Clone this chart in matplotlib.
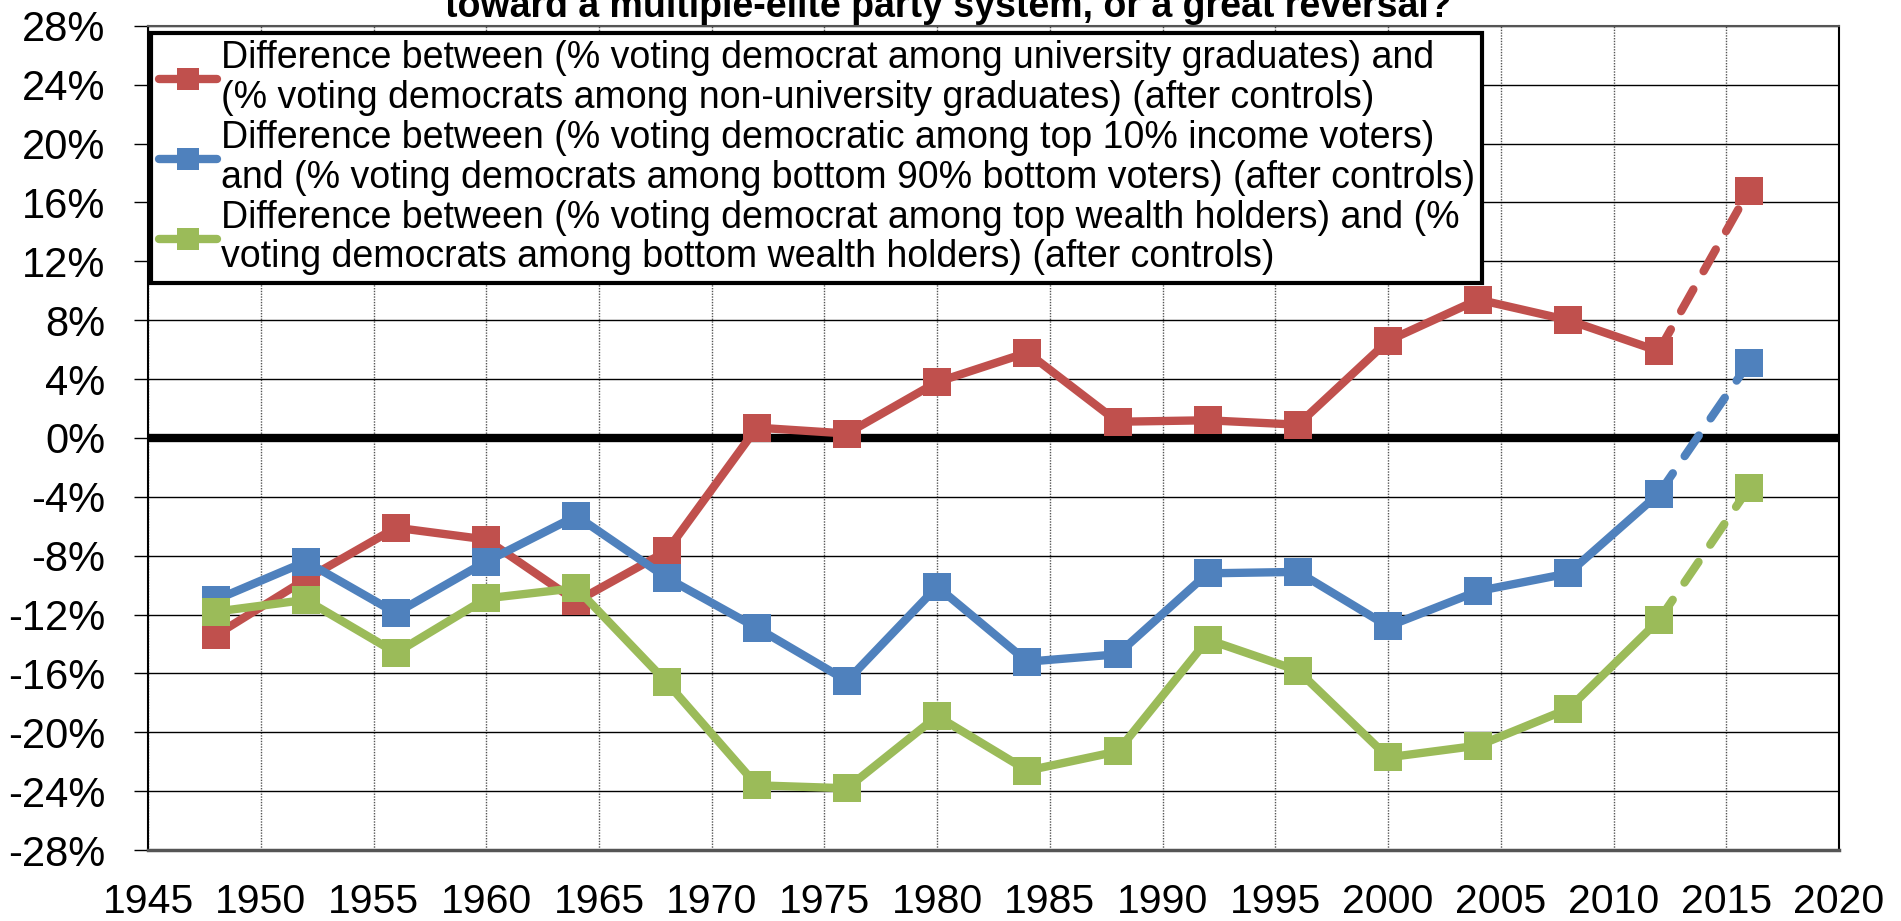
import matplotlib
matplotlib.use("Agg")
import matplotlib.pyplot as plt
from matplotlib.lines import Line2D
from matplotlib.ticker import FuncFormatter, MultipleLocator

plt.rcParams['font.family'] = ['Liberation Sans', 'DejaVu Sans']

# election years
years = [1948, 1952, 1956, 1960, 1964, 1968, 1972, 1976, 1980, 1984,
         1988, 1992, 1996, 2000, 2004, 2008, 2012, 2016]

# difference in % voting democrat (after controls)
university = [-13.4, -9.6, -6.1, -6.9, -11.1, -7.7, 0.7, 0.3, 3.8, 5.8,
              1.1, 1.2, 0.9, 6.6, 9.4, 8.0, 5.9, 16.8]
top_income = [-11.0, -8.4, -11.9, -8.4, -5.3, -9.5, -12.9, -16.5, -10.1, -15.2,
              -14.7, -9.2, -9.1, -12.8, -10.4, -9.2, -3.8, 5.1]
top_wealth = [-11.8, -11.0, -14.6, -10.9, -10.2, -16.6, -23.6, -23.8, -18.9, -22.6,
              -21.3, -13.7, -15.8, -21.7, -20.9, -18.4, -12.4, -3.4]

labels = [
    "Difference between (% voting democrat among university graduates) and\n"
    "(% voting democrats among non-university graduates) (after controls)",
    "Difference between (% voting democratic among top 10% income voters)\n"
    "and (% voting democrats among bottom 90% bottom voters) (after controls)",
    "Difference between (% voting democrat among top wealth holders) and (%\n"
    "voting democrats among bottom wealth holders) (after controls)",
]
colors = ['#C0504D', '#4F81BD', '#9BBB59']

fig = plt.figure(figsize=(19.01, 9.21), dpi=100)
ax = fig.add_axes([0.0779, 0.077, 0.8895, 0.895])

lw = 6
ms = 20
handles = []
for vals, col, lab in zip([university, top_income, top_wealth], colors, labels):
    ax.plot(years[:-1], vals[:-1], color=col, lw=lw, marker='s', ms=ms,
            markeredgewidth=0, solid_joinstyle='miter', zorder=4)
    ax.plot(years[-2:], vals[-2:], color=col, lw=lw, ls=(0, (3.0, 2.5)),
            dash_capstyle='round', zorder=3)
    ax.plot(years[-1:], vals[-1:], color=col, ls='none', marker='s', ms=ms,
            markeredgewidth=0, zorder=4)
    handles.append(Line2D([], [], color=col, lw=lw, marker='s', ms=16.5,
                          markeredgewidth=0, solid_capstyle='round', label=lab))

ax.axhline(0, color='black', lw=6, zorder=2)

ax.set_xlim(1945, 2020)
ax.set_ylim(-28, 28)
ax.xaxis.set_major_locator(MultipleLocator(5))
ax.yaxis.set_major_locator(MultipleLocator(4))
ax.yaxis.set_major_formatter(FuncFormatter(lambda v, p: f"{v:.0f}%"))

ax.grid(axis='y', color='black', lw=1, zorder=1)
ax.grid(axis='x', color='#555555', lw=1, ls=(0, (1, 1)), zorder=1)
ax.set_axisbelow(True)

ax.tick_params(axis='y', direction='out', length=10, width=1, labelsize=30, pad=21)
ax.tick_params(axis='x', length=0, labelsize=29.5, pad=24)
for s in ['left', 'right']:
    ax.spines[s].set_color('black')
    ax.spines[s].set_linewidth(1.5)
ax.spines['top'].set_color('#555555')
ax.spines['top'].set_linewidth(1.5)
ax.spines['bottom'].set_color('#555555')
ax.spines['bottom'].set_linewidth(2.5)

leg = ax.legend(handles=handles, loc='upper left', bbox_to_anchor=(0.002, 0.9915),
                fontsize=27, frameon=True, fancybox=False, borderaxespad=0,
                handlelength=1.55, handletextpad=0.1, labelspacing=0.12,
                borderpad=0.2, framealpha=1)
for t in leg.get_texts():
    t.set_linespacing(1.12)
leg.get_frame().set_edgecolor('black')
leg.get_frame().set_linewidth(3)
leg.set_zorder(6)

fig.text(0.499, 0.981, "toward a multiple-elite party system, or a great reversal?",
         ha='center', va='baseline', fontsize=27, fontweight='bold')

fig.savefig("out.png", dpi=100)
